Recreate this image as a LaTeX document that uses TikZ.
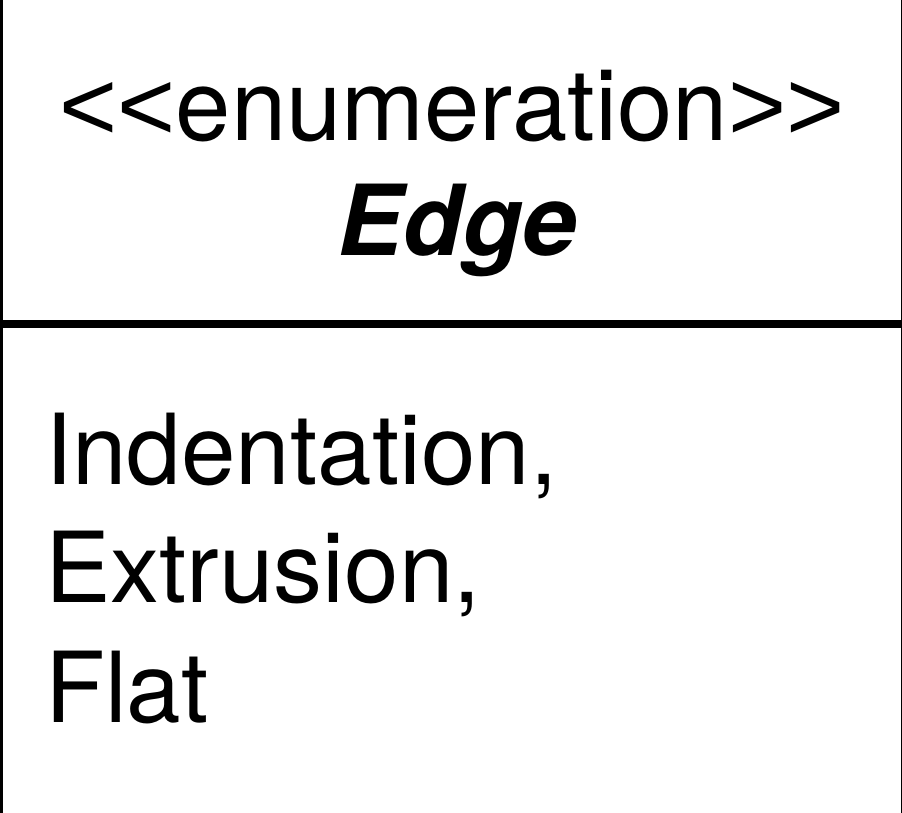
\documentclass[tikz,border=0pt]{standalone}
\usepackage{fontspec}
\setmainfont{TeX Gyre Heros}
\newfontfamily\chevfont{Liberation Sans}
\newcommand{\stereoopen}{{\chevfont<{}<}}
\newcommand{\stereoclose}{{\chevfont>{}>}}
\tikzset{
	umltext/.style={inner sep=0pt, font=\fontsize{98}{118}\selectfont},
	umlstereo/.style={umltext, font=\fontsize{99.5}{118}\selectfont},
}
\begin{document}
\begin{tikzpicture}[x=1pt, y=-1pt]
		\useasboundingbox (0, 0) rectangle (902, 812);
		\draw[line width=3pt] (1.5, -20) -- (1.5, 832); % left side
		\draw[line width=1.5pt] (901.25, -20) -- (901.25, 832); % right side
		\node[umlstereo, anchor=base] (stereo) at (452, 140) {\stereoopen enumeration\stereoclose};
		\node[umltext, anchor=base] (name) at (457, 255) {\textbf{\textit{Edge}}};
		\coordinate (divl) at (0, 324);
		\coordinate (divr) at (902, 324);
		\draw[line width=7.5pt] (divl) -- (divr); % divider
		\node[umltext, anchor=base west] (lita) at (45, 484) {Indentation,};
		\node[umltext, anchor=base west] (litb) at (45, 602) {Extrusion,};
		\node[umltext, anchor=base west] (litc) at (45, 722) {Flat};
	\end{tikzpicture}
\end{document}
